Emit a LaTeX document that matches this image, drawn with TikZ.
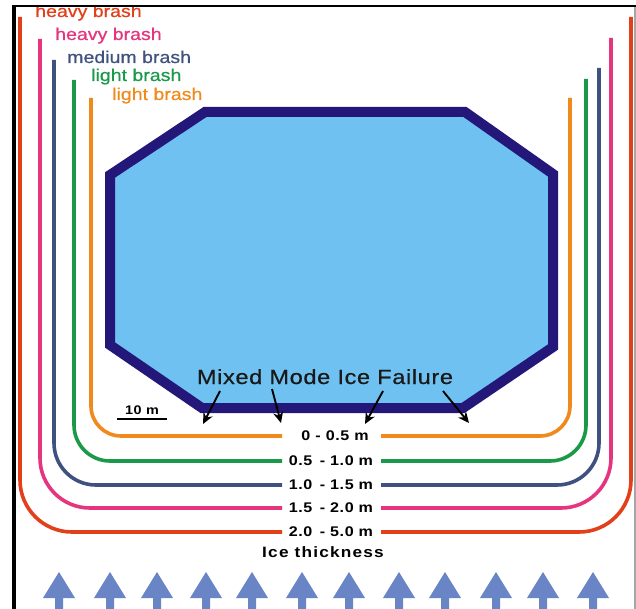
\documentclass[tikz,border=0pt]{standalone}
\usepackage{fontspec}
\setmainfont{Liberation Sans}[FakeStretch=1.15]
\newfontfamily\brashfont{Liberation Sans}[FakeStretch=1.15,FakeBold=0.6]
\newfontfamily\mixfont{Liberation Sans}[FakeStretch=1.15,LetterSpace=3,FakeBold=0.6]
\newfontfamily\numfont{Liberation Sans}[FakeStretch=1.15,LetterSpace=4]
\newfontfamily\icefont{Liberation Sans}[FakeStretch=1.15,LetterSpace=8]
\usetikzlibrary{arrows.meta}
\definecolor{cRed}{HTML}{E2401A}
\definecolor{cPink}{HTML}{E5357F}
\definecolor{cSlate}{HTML}{3F517F}
\definecolor{cGreen}{HTML}{1A9A48}
\definecolor{cOrange}{HTML}{F08A1C}
\definecolor{cNavy}{HTML}{23187A}
\definecolor{cIce}{HTML}{6EC1F0}
\definecolor{cFlow}{HTML}{6A85C5}
\tikzset{
  brashline/.style={line width=3.6pt},
  brashlbl/.style={anchor=base west, inner sep=0pt, font=\brashfont\fontsize{17}{19}\selectfont},
  numlbl/.style={anchor=center, inner sep=0pt, font=\numfont\bfseries\fontsize{14}{16}\selectfont},
  failarrow/.style={line width=1.9pt, -{Stealth[length=11pt,width=10pt]}},
  flowarrow/.style={fill=cFlow, draw=none}
}
\begin{document}
\begin{tikzpicture}[x=1pt,y=-1pt]
\useasboundingbox (0,0) rectangle (636,609);
\fill[white] (0,0) rectangle (636,609);

% ice floe (octagon)
\filldraw[fill=cIce, draw=cNavy, line width=10pt, line join=miter]
  (205,112) -- (465,112) -- (553,174) -- (553,347) -- (463,408) -- (202,408) -- (110,345) -- (110,175) -- cycle;

% brash lines, left halves
\draw[brashline, cOrange, rounded corners=30pt] (91,98) -- (91,436) -- (282,436);
\draw[brashline, cGreen, rounded corners=36pt] (74,80) -- (74,461) -- (282,461);
\draw[brashline, cSlate, rounded corners=42pt] (54,60) -- (54,485) -- (282,485);
\draw[brashline, cPink, rounded corners=50pt] (40,39) -- (40,508) -- (282,508);
\draw[brashline, cRed, rounded corners=52pt] (20,17) -- (20,532) -- (282,532);
% brash lines, right halves
\draw[brashline, cOrange, rounded corners=30pt] (381,436) -- (570,436) -- (570,98);
\draw[brashline, cGreen, rounded corners=36pt] (381,461) -- (586,461) -- (586,79);
\draw[brashline, cSlate, rounded corners=42pt] (381,485) -- (599,485) -- (599,68);
\draw[brashline, cPink, rounded corners=50pt] (381,508) -- (611,508) -- (611,38);
\draw[brashline, cRed, rounded corners=52pt] (381,532) -- (631,532) -- (631,17);

% brash labels
\node[brashlbl, text=cRed] (lblheavyA) at (35,17) {heavy brash};
\node[brashlbl, text=cPink] (lblheavyB) at (55,40) {heavy brash};
\node[brashlbl, text=cSlate] (lblmedium) at (67,63) {medium brash};
\node[brashlbl, text=cGreen] (lbllightA) at (91,81) {light brash};
\node[brashlbl, text=cOrange] (lbllightB) at (112,100) {light brash};

% frame
\fill[white] (0,0) rectangle (636,5);
\draw[black, line width=2.6pt] (12.5,6.2) -- (636,6.2);
\draw[black, line width=3.5pt] (14,5) -- (14,609);
\draw[gray!70, line width=1.2pt] (635,7) -- (635,609);

% thickness labels
\node[numlbl] (t1) at (335,436) {0 - 0.5 m};
\node[numlbl] (t2) at (331,461) {0.5 \,- 1.0 m};
\node[numlbl] (t3) at (331,485) {1.0 \,- 1.5 m};
\node[numlbl] (t4) at (331,508) {1.5 \,- 2.0 m};
\node[numlbl] (t5) at (331,532) {2.0 \,- 5.0 m};
\node[anchor=center, inner sep=0pt, font=\icefont\bfseries\fontsize{15}{17}\selectfont] (icethick) at (323,552) {Ice thickness};

% scale bar
\node[anchor=base, inner sep=0pt, font=\numfont\bfseries\fontsize{12.5}{14}\selectfont] (scalelbl) at (142,414) {10 m};
\coordinate (sbA) at (117,419);
\coordinate (sbB) at (167,419);
\draw[line width=1.8pt] (sbA) -- (sbB);

% mixed mode failure
\node[anchor=base, inner sep=0pt, text=black!90, font=\mixfont\fontsize{20.5}{22}\selectfont] (mixed) at (325,384) {Mixed Mode Ice Failure};
\coordinate (fa1) at (220,391); \coordinate (fb1) at (203,424);
\coordinate (fa2) at (272,389); \coordinate (fb2) at (281,423);
\coordinate (fa3) at (383,391); \coordinate (fb3) at (365,424);
\coordinate (fa4) at (443,391); \coordinate (fb4) at (469,423);
\foreach \i in {1,...,4} \draw[failarrow] (fa\i) -- (fb\i);

% ice drift arrows
\foreach \x in {59,110,157,206,252,302,349,399,445,496,543,593}
  \fill[flowarrow] (\x,572) -- (\x+16,598) -- (\x+4,598) -- (\x+4,609) -- (\x-4,609) -- (\x-4,598) -- (\x-16,598) -- cycle;
\end{tikzpicture}
\end{document}
